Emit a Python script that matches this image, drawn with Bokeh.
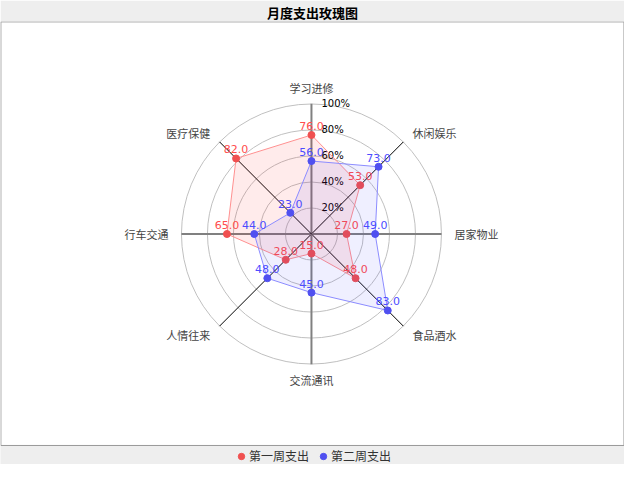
import numpy as np
from bokeh.plotting import figure
from bokeh.models import Range1d, Legend, LegendItem, ColumnDataSource
from bokeh.core.properties import value
from bokeh.embed import file_html
from bokeh.resources import INLINE

# 数据（从学习进修开始，顺时针）
categories = ["学习进修", "休闲娱乐", "居家物业", "食品酒水", "交流通讯", "人情往来", "行车交通", "医疗保健"]
week1 = [76, 53, 27, 48, 15, 28, 65, 82]
week2 = [56, 73, 49, 83, 45, 48, 44, 23]
series_names = ["第一周支出", "第二周支出"]
rings = [20, 40, 60, 80, 100]
ring_labels = ["20%", "40%", "60%", "80%", "100%"]

FONT = value("Noto Sans CJK SC")

p = figure(width=624, height=464, output_backend="svg", toolbar_location=None,
           x_range=Range1d(-239.2, 240.8), y_range=Range1d(-176.9, 163.1),
           min_border_left=0, min_border_right=0, min_border_top=0, min_border_bottom=0)
p.title.text = "月度支出玫瑰图"
p.title.align = "center"
p.title.text_font = "Noto Sans CJK SC"
p.title.text_font_size = "13px"
p.title.text_font_style = "bold"
p.title.text_color = "black"
p.title.standoff = 0
p.title.offset = 0
p.axis.visible = False
p.grid.visible = False
p.border_fill_color = "#eeeeee"
p.background_fill_color = "#eeeeee"
p.outline_line_color = None

# 白色绘图区（图例在其下方）
p.quad(left=-238.9, right=240.4, bottom=-162.3, top=162.8,
       fill_color="white", line_color="#999999", line_width=1)

n = len(categories)
theta = np.arange(n) * 2 * np.pi / n
sx, cy = np.sin(theta), np.cos(theta)

# 同心圆
p.circle(x=[0] * len(rings), y=[0] * len(rings), radius=rings,
         fill_color=None, line_color="#c0c0c0", line_width=1)

# 轴线
for i in range(n):
    main = i % 2 == 0
    p.line([0, 100 * sx[i]], [0, 100 * cy[i]],
           line_color="#808080" if main else "black",
           line_width=2 if main else 1)

# 百分比刻度
p.text(x=[0] * len(rings), y=rings, text=ring_labels, x_offset=10,
       text_font=value("DejaVu Sans"), text_font_size="10px", text_color="black",
       text_align="left", text_baseline="middle")

# 类别标签
groups = {}
for i in range(n):
    s, c = sx[i], cy[i]
    al = "center" if abs(s) < 1e-6 else ("left" if s > 0 else "right")
    bl = "middle" if abs(c) < 0.99 else ("bottom" if c > 0 else "top")
    groups.setdefault((al, bl), []).append(i)
for (al, bl), idx in groups.items():
    lab_r = 110 if bl == "middle" else 106
    p.text(x=[lab_r * sx[i] for i in idx], y=[lab_r * cy[i] for i in idx],
           text=[categories[i] for i in idx], text_align=al, text_baseline=bl,
           text_font=FONT, text_font_size="11px", text_color="#444444")

colors = [("#f05050", "#ff9090", "#ff0000", "#ff4d4d"),
          ("#5050f0", "#8c8cff", "#3333ff", "#4d4dff")]
items = []
for vals, name, (pt, ln, fl, tx) in zip([week1, week2], series_names, colors):
    v = np.array(vals, dtype=float)
    xs, ys = v * sx, v * cy
    p.patch(list(xs), list(ys), fill_color=fl, fill_alpha=0.08,
            line_color=ln, line_width=1)
    src = ColumnDataSource(dict(x=list(xs), y=list(ys), t=["%.1f" % a for a in v]))
    r = p.scatter("x", "y", source=src, size=7, marker="circle",
                  fill_color=pt, line_color=pt)
    p.text("x", "y", text="t", source=src, y_offset=-5, text_align="center",
           text_baseline="bottom", text_font=value("DejaVu Sans"),
           text_font_size="11px", text_color=tx)
    items.append(LegendItem(label=name, renderers=[r]))

legend = Legend(items=items, orientation="horizontal", location="bottom_center",
                border_line_color=None, background_fill_alpha=0,
                padding=0, margin=0, spacing=6, glyph_width=16, glyph_height=16,
                label_height=16, label_standoff=0,
                label_text_font="Noto Sans CJK SC", label_text_font_size="12px",
                label_text_color="#333333")
p.add_layout(legend, "center")

open("out.html", "w").write(file_html(p, INLINE))
